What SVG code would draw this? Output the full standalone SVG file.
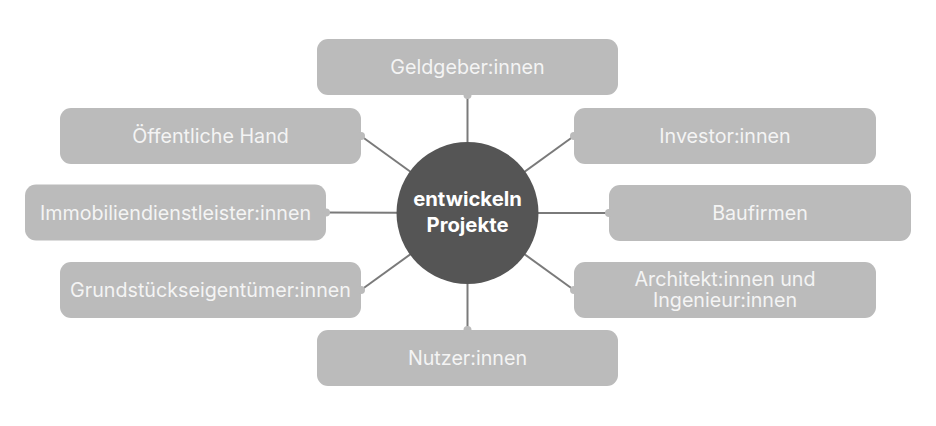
<svg xmlns="http://www.w3.org/2000/svg" width="936" height="426" viewBox="0 0 936 426">
<style>
.box{fill:#bbbbbb}
.dot{fill:#bbbbbb}
.lbl{font-family:Inter,"Liberation Sans",sans-serif;font-size:19.7px;fill:#f4f4f4;text-anchor:middle}
.conn{stroke:#7a7a7a;stroke-width:2;fill:none}
.ctr{font-family:Inter,"Liberation Sans",sans-serif;font-size:20.3px;font-weight:bold;fill:#ffffff;text-anchor:middle}
</style>
<rect width="936" height="426" fill="#ffffff"/>
<g id="connectors">
<line class="conn" x1="467.5" y1="95" x2="467.5" y2="213"/>
<line class="conn" x1="361" y1="136" x2="467.5" y2="213"/>
<line class="conn" x1="326" y1="212.5" x2="467.5" y2="213"/>
<line class="conn" x1="361" y1="290" x2="467.5" y2="213"/>
<line class="conn" x1="574" y1="136" x2="467.5" y2="213"/>
<line class="conn" x1="609" y1="213" x2="467.5" y2="213"/>
<line class="conn" x1="574" y1="290" x2="467.5" y2="213"/>
<line class="conn" x1="467.5" y1="330" x2="467.5" y2="213"/>
</g>
<g id="center">
<circle cx="467.5" cy="213" r="71" fill="#555555"/>
<text class="ctr" x="467.5" y="206">entwickeln</text>
<text class="ctr" x="467.5" y="232">Projekte</text>
</g>
<g id="geldgeber">
<rect class="box" x="317" y="39" width="301" height="56" rx="11"/>
<circle class="dot" cx="467.5" cy="95" r="4"/>
<text class="lbl" x="467.5" y="74">Geldgeber:innen</text>
</g>
<g id="oeffentliche">
<rect class="box" x="60" y="108" width="301" height="56" rx="11"/>
<circle class="dot" cx="361" cy="136" r="4"/>
<text class="lbl" x="210.5" y="143">Öffentliche Hand</text>
</g>
<g id="immobilien">
<rect class="box" x="25" y="184.5" width="301" height="56" rx="11"/>
<circle class="dot" cx="326" cy="212.5" r="4"/>
<text class="lbl" x="175.5" y="219.5">Immobiliendienstleister:innen</text>
</g>
<g id="grundstueck">
<rect class="box" x="60" y="262" width="301" height="56" rx="11"/>
<circle class="dot" cx="361" cy="290" r="4"/>
<text class="lbl" x="210.5" y="297">Grundstückseigentümer:innen</text>
</g>
<g id="investor">
<rect class="box" x="574" y="108" width="302" height="56" rx="11"/>
<circle class="dot" cx="574" cy="136" r="4"/>
<text class="lbl" x="725" y="143">Investor:innen</text>
</g>
<g id="baufirmen">
<rect class="box" x="609" y="185" width="302" height="56" rx="11"/>
<circle class="dot" cx="609" cy="213" r="4"/>
<text class="lbl" x="760" y="220">Baufirmen</text>
</g>
<g id="architekt">
<rect class="box" x="574" y="262" width="302" height="56" rx="11"/>
<circle class="dot" cx="574" cy="290" r="4"/>
<text class="lbl" x="725" y="286">Architekt:innen und</text>
<text class="lbl" x="725" y="307">Ingenieur:innen</text>
</g>
<g id="nutzer">
<rect class="box" x="317" y="330" width="301" height="56" rx="11"/>
<circle class="dot" cx="467.5" cy="330" r="4"/>
<text class="lbl" x="467.5" y="365">Nutzer:innen</text>
</g>
</svg>
